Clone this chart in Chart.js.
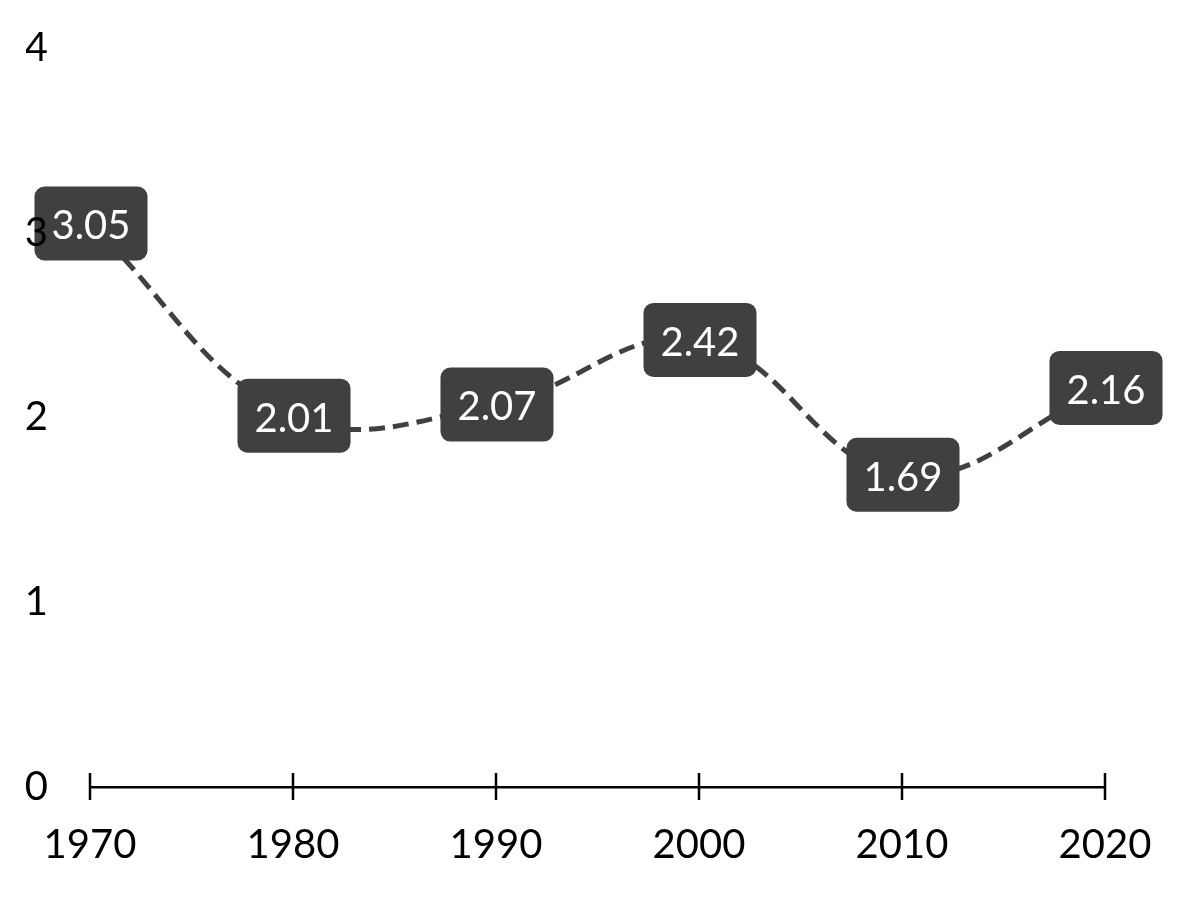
<!DOCTYPE html>
<html>
<head>
<meta charset="utf-8">
<script src="https://cdn.jsdelivr.net/npm/chart.js@4/dist/chart.umd.min.js"></script>
<style>
html,body{margin:0;padding:0;background:#fff;}
#wrap{width:1196px;height:897px;}
</style>
</head>
<body>
<div id="wrap"><canvas id="c" width="1196" height="897"></canvas></div>
<script>
const years = ['1970', '1980', '1990', '2000', '2010', '2020'];
const values = [3.05, 2.01, 2.07, 2.42, 1.69, 2.16];
const yTicks = [0, 1, 2, 3, 4];

const FONT = 'Lato, "Open Sans", sans-serif';

const tickMarks = {
  id: 'tickMarks',
  afterDraw(chart) {
    const x = chart.scales.x, y = chart.scales.y;
    const ctx = chart.ctx;
    const y0 = y.getPixelForValue(0);
    ctx.save();
    ctx.strokeStyle = '#000';
    ctx.lineWidth = 2.5;
    x.ticks.forEach((t, i) => {
      const px = x.getPixelForTick(i);
      ctx.beginPath();
      ctx.moveTo(px, y0 - 14);
      ctx.lineTo(px, y0 + 13);
      ctx.stroke();
    });
    ctx.restore();
  }
};

const boxLabels = {
  id: 'boxLabels',
  afterDatasetsDraw(chart) {
    const ctx = chart.ctx;
    const meta = chart.getDatasetMeta(0);
    ctx.save();
    ctx.font = '40px ' + FONT;
    ctx.textAlign = 'center';
    ctx.textBaseline = 'middle';
    meta.data.forEach((pt, i) => {
      const txt = values[i].toFixed(2);
      const w = ctx.measureText(txt).width + 34;
      const h = 74;
      const bx = pt.x - w / 2 + 1, by = pt.y - h / 2;
      ctx.fillStyle = '#404040';
      ctx.beginPath();
      ctx.roundRect(bx, by, w, h, 10);
      ctx.fill();
      ctx.fillStyle = '#fff';
      ctx.fillText(txt, pt.x + 1, pt.y + 3);
    });
    ctx.restore();
  }
};

new Chart(document.getElementById('c'), {
  type: 'line',
  data: {
    labels: years,
    datasets: [{
      data: values,
      borderColor: '#404040',
      borderWidth: 5,
      borderDash: [16, 8],
      tension: 0.4,
      pointRadius: 0,
      fill: false
    }]
  },
  options: {
    responsive: false,
    animation: false,
    layout: { padding: { left: 26, right: 91, top: 48, bottom: 28 } },
    plugins: { legend: { display: false }, tooltip: { enabled: false } },
    scales: {
      x: {
        offset: false,
        afterFit(s) { s.height = 82; },
        grid: { display: true, drawOnChartArea: false, drawTicks: true, tickLength: 13, color: 'rgba(0,0,0,0)' },
        border: { display: true, color: '#000', width: 2.5 },
        ticks: { color: '#000', font: { family: FONT, size: 40 }, padding: 21, maxRotation: 0 }
      },
      y: {
        min: 0, max: 4,
        afterFit(s) { s.width = 64; s.paddingTop = 0; s.paddingBottom = 0; },
        afterBuildTicks(s) { s.ticks = yTicks.map(v => ({ value: v })); },
        grid: { display: false, drawTicks: false },
        border: { display: false },
        ticks: { z: 1, color: '#000', font: { family: FONT, size: 40 }, padding: 42 }
      }
    }
  },
  plugins: [tickMarks, boxLabels]
});
</script>
</body>
</html>
